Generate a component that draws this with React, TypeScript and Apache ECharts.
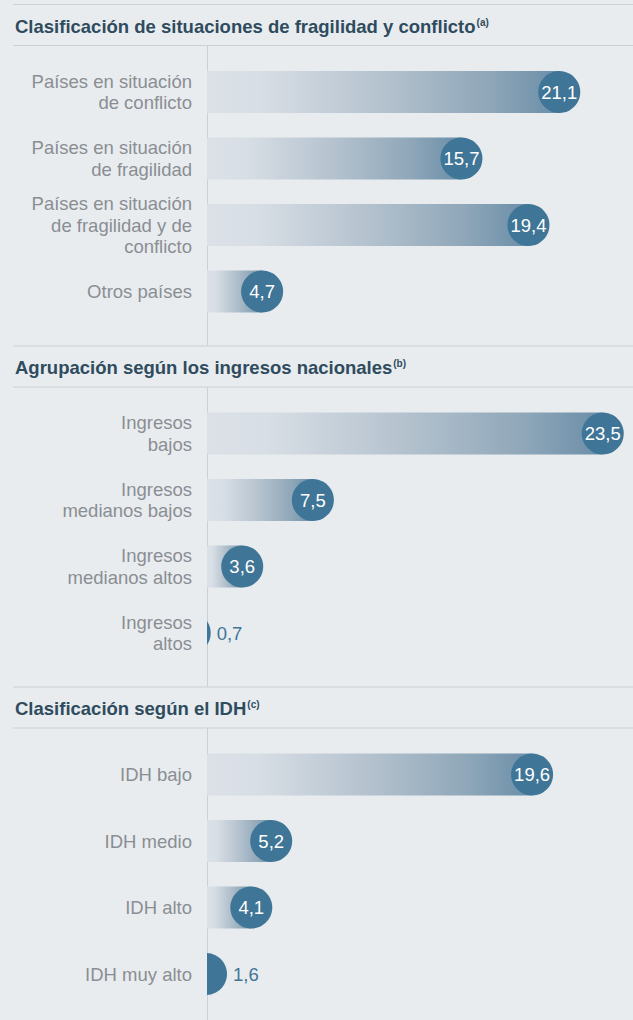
import React, { useEffect, useRef } from "react";
import * as echarts from "echarts";

// ---- Data ----
const sectionTitles = [
  "Clasificación de situaciones de fragilidad y conflicto",
  "Agrupación según los ingresos nacionales",
  "Clasificación según el IDH",
];
const sectionNotes = ["(a)", "(b)", "(c)"];

const fragilityCategories = [
  "Países en situación\nde conflicto",
  "Países en situación\nde fragilidad",
  "Países en situación\nde fragilidad y de\nconflicto",
  "Otros países",
];
const fragilityValues = [21.1, 15.7, 19.4, 4.7];

const incomeCategories = [
  "Ingresos\nbajos",
  "Ingresos\nmedianos bajos",
  "Ingresos\nmedianos altos",
  "Ingresos\naltos",
];
const incomeValues = [23.5, 7.5, 3.6, 0.7];

const idhCategories = ["IDH bajo", "IDH medio", "IDH alto", "IDH muy alto"];
const idhValues = [19.6, 5.2, 4.1, 1.6];

const sectionCategories = [fragilityCategories, incomeCategories, idhCategories];
const sectionValues = [fragilityValues, incomeValues, idhValues];

// ---- Axis range / layout ----
const X_MIN = 1.656;
const X_MAX = 25.17;
const W = 633;
const H = 1020;
const SECTION_TOP = [4, 345.5, 686.5];
const BAND = 66.5;
const GRID_LEFT = 207;
const R = 21;

const FONT = "'Liberation Sans', Arial, Helvetica, sans-serif";
const BG = "#e8ecef";
const LINE = "#c9d0d6";
const TITLE_COLOR = "#2f4b5e";
const LABEL_COLOR = "#8a8e93";
const DOT = "#3f7596";

const fmt = (v: number) => v.toFixed(1).replace(".", ",");

function renderItem(params: any, api: any) {
  const v = api.value(0);
  const idx = api.value(1);
  const [cx, cy] = api.coord([v, idx]);
  const x0 = params.coordSys.x;
  const children: any[] = [];
  if (cx > x0) {
    children.push({
      type: "rect",
      shape: { x: x0, y: cy - R, width: cx - x0, height: 2 * R },
      style: {
        fill: new echarts.graphic.LinearGradient(0, 0, 1, 0, [
          { offset: 0, color: "#dce1e8" },
          { offset: 0.15, color: "#d8dee5" },
          { offset: 0.5, color: "#b4c2ce" },
          { offset: 0.8, color: "#8fa7b9" },
          { offset: 1, color: "#6a8ea8" },
        ]),
      },
    });
  }
  const inside = cx - R >= x0;
  if (inside) {
    children.push({
      type: "circle",
      shape: { cx, cy, r: R },
      style: { fill: DOT },
    });
    children.push({
      type: "text",
      x: cx,
      y: cy,
      style: {
        text: fmt(v),
        fill: "#ffffff",
        fontSize: 18.5,
        fontFamily: FONT,
        align: "center",
        verticalAlign: "middle",
      },
    });
  } else {
    const d = Math.max(-1, Math.min(1, (x0 - cx) / R));
    const a = Math.acos(d);
    const pts: number[][] = [];
    const n = 48;
    for (let k = 0; k <= n; k++) {
      const t = -a + (2 * a * k) / n;
      pts.push([cx + R * Math.cos(t), cy + R * Math.sin(t)]);
    }
    children.push({
      type: "polygon",
      shape: { points: pts },
      style: { fill: DOT },
    });
    children.push({
      type: "text",
      x: cx + R + 6,
      y: cy,
      style: {
        text: fmt(v),
        fill: DOT,
        fontSize: 18.5,
        fontFamily: FONT,
        align: "left",
        verticalAlign: "middle",
      },
    });
  }
  return { type: "group", children };
}

export default function App() {
  const ref = useRef<HTMLDivElement>(null);
  useEffect(() => {
    document.body.style.margin = "0";
    if (!ref.current) return;
    const chart = echarts.init(ref.current, null, { renderer: "svg" });

    const grids: any[] = [];
    const xAxes: any[] = [];
    const yAxes: any[] = [];
    const series: any[] = [];
    const graphics: any[] = [];

    SECTION_TOP.forEach((y0, i) => {
      const gridTop = y0 + 88 - BAND / 2;
      grids.push({
        left: GRID_LEFT,
        width: W - GRID_LEFT,
        top: gridTop,
        height: BAND * 4,
      });
      xAxes.push({
        gridIndex: i,
        type: "value",
        min: X_MIN,
        max: X_MAX,
        show: false,
      });
      yAxes.push({
        gridIndex: i,
        type: "category",
        inverse: true,
        data: sectionCategories[i],
        axisLine: { show: false },
        axisTick: { show: false },
        splitLine: { show: false },
        axisLabel: {
          fontSize: 18.5,
          fontFamily: FONT,
          color: LABEL_COLOR,
          lineHeight: 21.5,
          margin: 15,
          align: "right",
        },
      });
      series.push({
        type: "custom",
        xAxisIndex: i,
        yAxisIndex: i,
        encode: { x: 0, y: 1 },
        data: sectionValues[i].map((v, j) => [v, j]),
        renderItem,
      });

      // decorations: separators, titles, vertical axis line
      graphics.push({
        type: "line",
        shape: { x1: 13, y1: y0 + 0.5, x2: W, y2: y0 + 0.5 },
        style: { stroke: LINE, lineWidth: 1 },
      });
      graphics.push({
        type: "line",
        shape: { x1: 13, y1: y0 + 41.5, x2: W, y2: y0 + 41.5 },
        style: { stroke: LINE, lineWidth: 1 },
      });
      const nextTop = i < SECTION_TOP.length - 1 ? SECTION_TOP[i + 1] : H;
      graphics.push({
        type: "line",
        shape: { x1: GRID_LEFT + 0.5, y1: y0 + 41.5, x2: GRID_LEFT + 0.5, y2: nextTop },
        style: { stroke: LINE, lineWidth: 1 },
      });
      graphics.push({
        type: "text",
        x: 15,
        y: y0 + 22,
        style: {
          text: `{t|${sectionTitles[i]}}{s|${sectionNotes[i]}}`,
          verticalAlign: "middle",
          align: "left",
          rich: {
            t: {
              fontSize: 18.5,
              fontWeight: "bold",
              fontFamily: FONT,
              fill: TITLE_COLOR,
              lineHeight: 18,
            },
            s: {
              fontSize: 10,
              fontWeight: "bold",
              fontFamily: FONT,
              fill: TITLE_COLOR,
              lineHeight: 14,
              verticalAlign: "top",
              padding: [0, 0, 0, 1],
            },
          },
        },
      });
    });

    chart.setOption({
      animation: false,
      backgroundColor: BG,
      grid: grids,
      xAxis: xAxes,
      yAxis: yAxes,
      series,
      graphic: graphics,
    });
    return () => chart.dispose();
  }, []);
  return <div ref={ref} style={{ width: W, height: H }} />;
}
